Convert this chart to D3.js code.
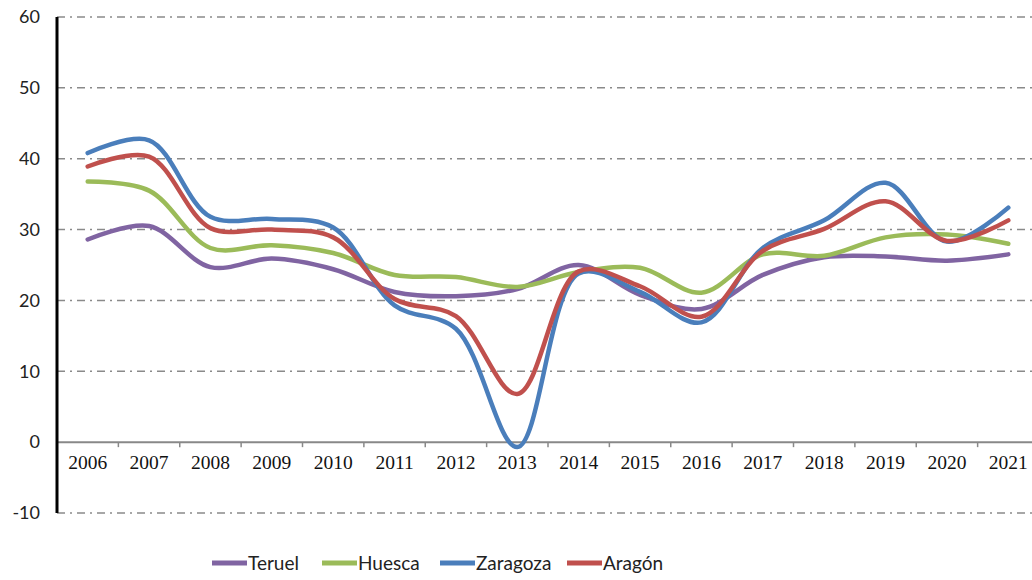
<!DOCTYPE html>
<html>
<head>
<meta charset="utf-8">
<script src="https://cdn.jsdelivr.net/npm/d3@7"></script>
<style>
  body { margin: 0; background: #fff; }
  svg { display: block; }
</style>
</head>
<body>
<script>
var years = ['2006','2007','2008','2009','2010','2011','2012','2013','2014','2015','2016','2017','2018','2019','2020','2021'];
var teruel   = [28.6, 30.5, 24.7, 25.9, 24.4, 21.2, 20.6, 21.6, 25.0, 20.8, 18.8, 23.6, 26.1, 26.2, 25.6, 26.5];
var huesca   = [36.8, 35.5, 27.4, 27.8, 26.7, 23.6, 23.3, 21.9, 24.0, 24.6, 21.1, 26.5, 26.3, 28.9, 29.3, 28.0];
var zaragoza = [40.8, 42.6, 31.8, 31.5, 30.3, 19.3, 16.0, -0.7, 23.8, 21.2, 16.9, 27.4, 31.3, 36.6, 28.3, 33.1];
var aragon   = [38.9, 40.3, 30.2, 30.0, 28.9, 20.2, 17.8, 6.8, 24.1, 22.0, 17.7, 27.0, 30.1, 34.0, 28.4, 31.3];
var yTicks = [60, 50, 40, 30, 20, 10, 0, -10];

var series = [
  {name: 'Teruel', values: teruel, color: '#8064A2'},
  {name: 'Huesca', values: huesca, color: '#9BBB59'},
  {name: 'Zaragoza', values: zaragoza, color: '#4A7EBB'},
  {name: 'Aragón', values: aragon, color: '#C0504D'}
];

var width = 1032, height = 580;
var plotLeft = 57, plotRight = 1039, plotTop = 17, plotBottom = 513;

var svg = d3.select('body').append('svg')
    .attr('width', width)
    .attr('height', height);

var x = d3.scaleBand()
    .domain(years)
    .range([plotLeft, plotRight]);

var y = d3.scaleLinear()
    .domain([-10, 60])
    .range([plotBottom, plotTop]);

// dash-dot gridlines
svg.append('g')
  .selectAll('line')
  .data(yTicks.filter(function(d){ return d !== 0; }))
  .join('line')
    .attr('x1', plotLeft)
    .attr('x2', width)
    .attr('y1', function(d){ return y(d); })
    .attr('y2', function(d){ return y(d); })
    .attr('stroke', '#8a8a8a')
    .attr('stroke-width', 1.5)
    .attr('stroke-dasharray', '8,5,2,5');

// y labels
svg.append('g')
  .selectAll('text')
  .data(yTicks)
  .join('text')
    .attr('x', 40)
    .attr('y', function(d){ return y(d); })
    .attr('dy', '0.35em')
    .attr('text-anchor', 'end')
    .attr('font-family', 'Lato, sans-serif')
    .attr('font-size', 18)
    .attr('fill', '#222')
    .text(function(d){ return d; });

// x axis at zero
var xAxis = d3.axisBottom(x).tickSize(0).tickPadding(13);
var gx = svg.append('g')
    .attr('transform', 'translate(0,' + y(0) + ')')
    .call(xAxis);
gx.select('.domain').remove();
gx.selectAll('text')
    .attr('font-family', '"Liberation Serif", serif')
    .attr('font-size', 19.5)
    .attr('fill', '#111');

svg.append('line')
    .attr('x1', plotLeft).attr('x2', width)
    .attr('y1', y(0)).attr('y2', y(0))
    .attr('stroke', '#888')
    .attr('stroke-width', 2);

// tick marks between categories
svg.append('g')
  .selectAll('line')
  .data(years.slice(1))
  .join('line')
    .attr('x1', function(d){ return x(d); })
    .attr('x2', function(d){ return x(d); })
    .attr('y1', y(0))
    .attr('y2', y(0) + 5)
    .attr('stroke', '#888')
    .attr('stroke-width', 1.5);

// y axis line
svg.append('line')
    .attr('x1', plotLeft).attr('x2', plotLeft)
    .attr('y1', plotTop).attr('y2', plotBottom)
    .attr('stroke', '#000')
    .attr('stroke-width', 3);

var line = d3.line()
    .x(function(d, i){ return x(years[i]) + x.bandwidth() / 2; })
    .y(function(d){ return y(d); })
    .curve(d3.curveCatmullRom.alpha(0.5));

svg.append('g')
  .selectAll('path')
  .data(series)
  .join('path')
    .attr('d', function(s){ return line(s.values); })
    .attr('fill', 'none')
    .attr('stroke', function(s){ return s.color; })
    .attr('stroke-width', 4.5)
    .attr('stroke-linecap', 'round');

// legend
var legendX = [212, 322, 440, 567];
var leg = svg.append('g')
  .selectAll('g')
  .data(series)
  .join('g')
    .attr('transform', function(s, i){ return 'translate(' + legendX[i] + ',563)'; });
leg.append('line')
    .attr('x1', 0).attr('x2', 35)
    .attr('stroke', function(s){ return s.color; })
    .attr('stroke-width', 5);
leg.append('text')
    .attr('x', 36)
    .attr('dy', '0.35em')
    .attr('font-family', 'Lato, sans-serif')
    .attr('font-size', 19)
    .attr('fill', '#222')
    .text(function(s){ return s.name; });
</script>
</body>
</html>
